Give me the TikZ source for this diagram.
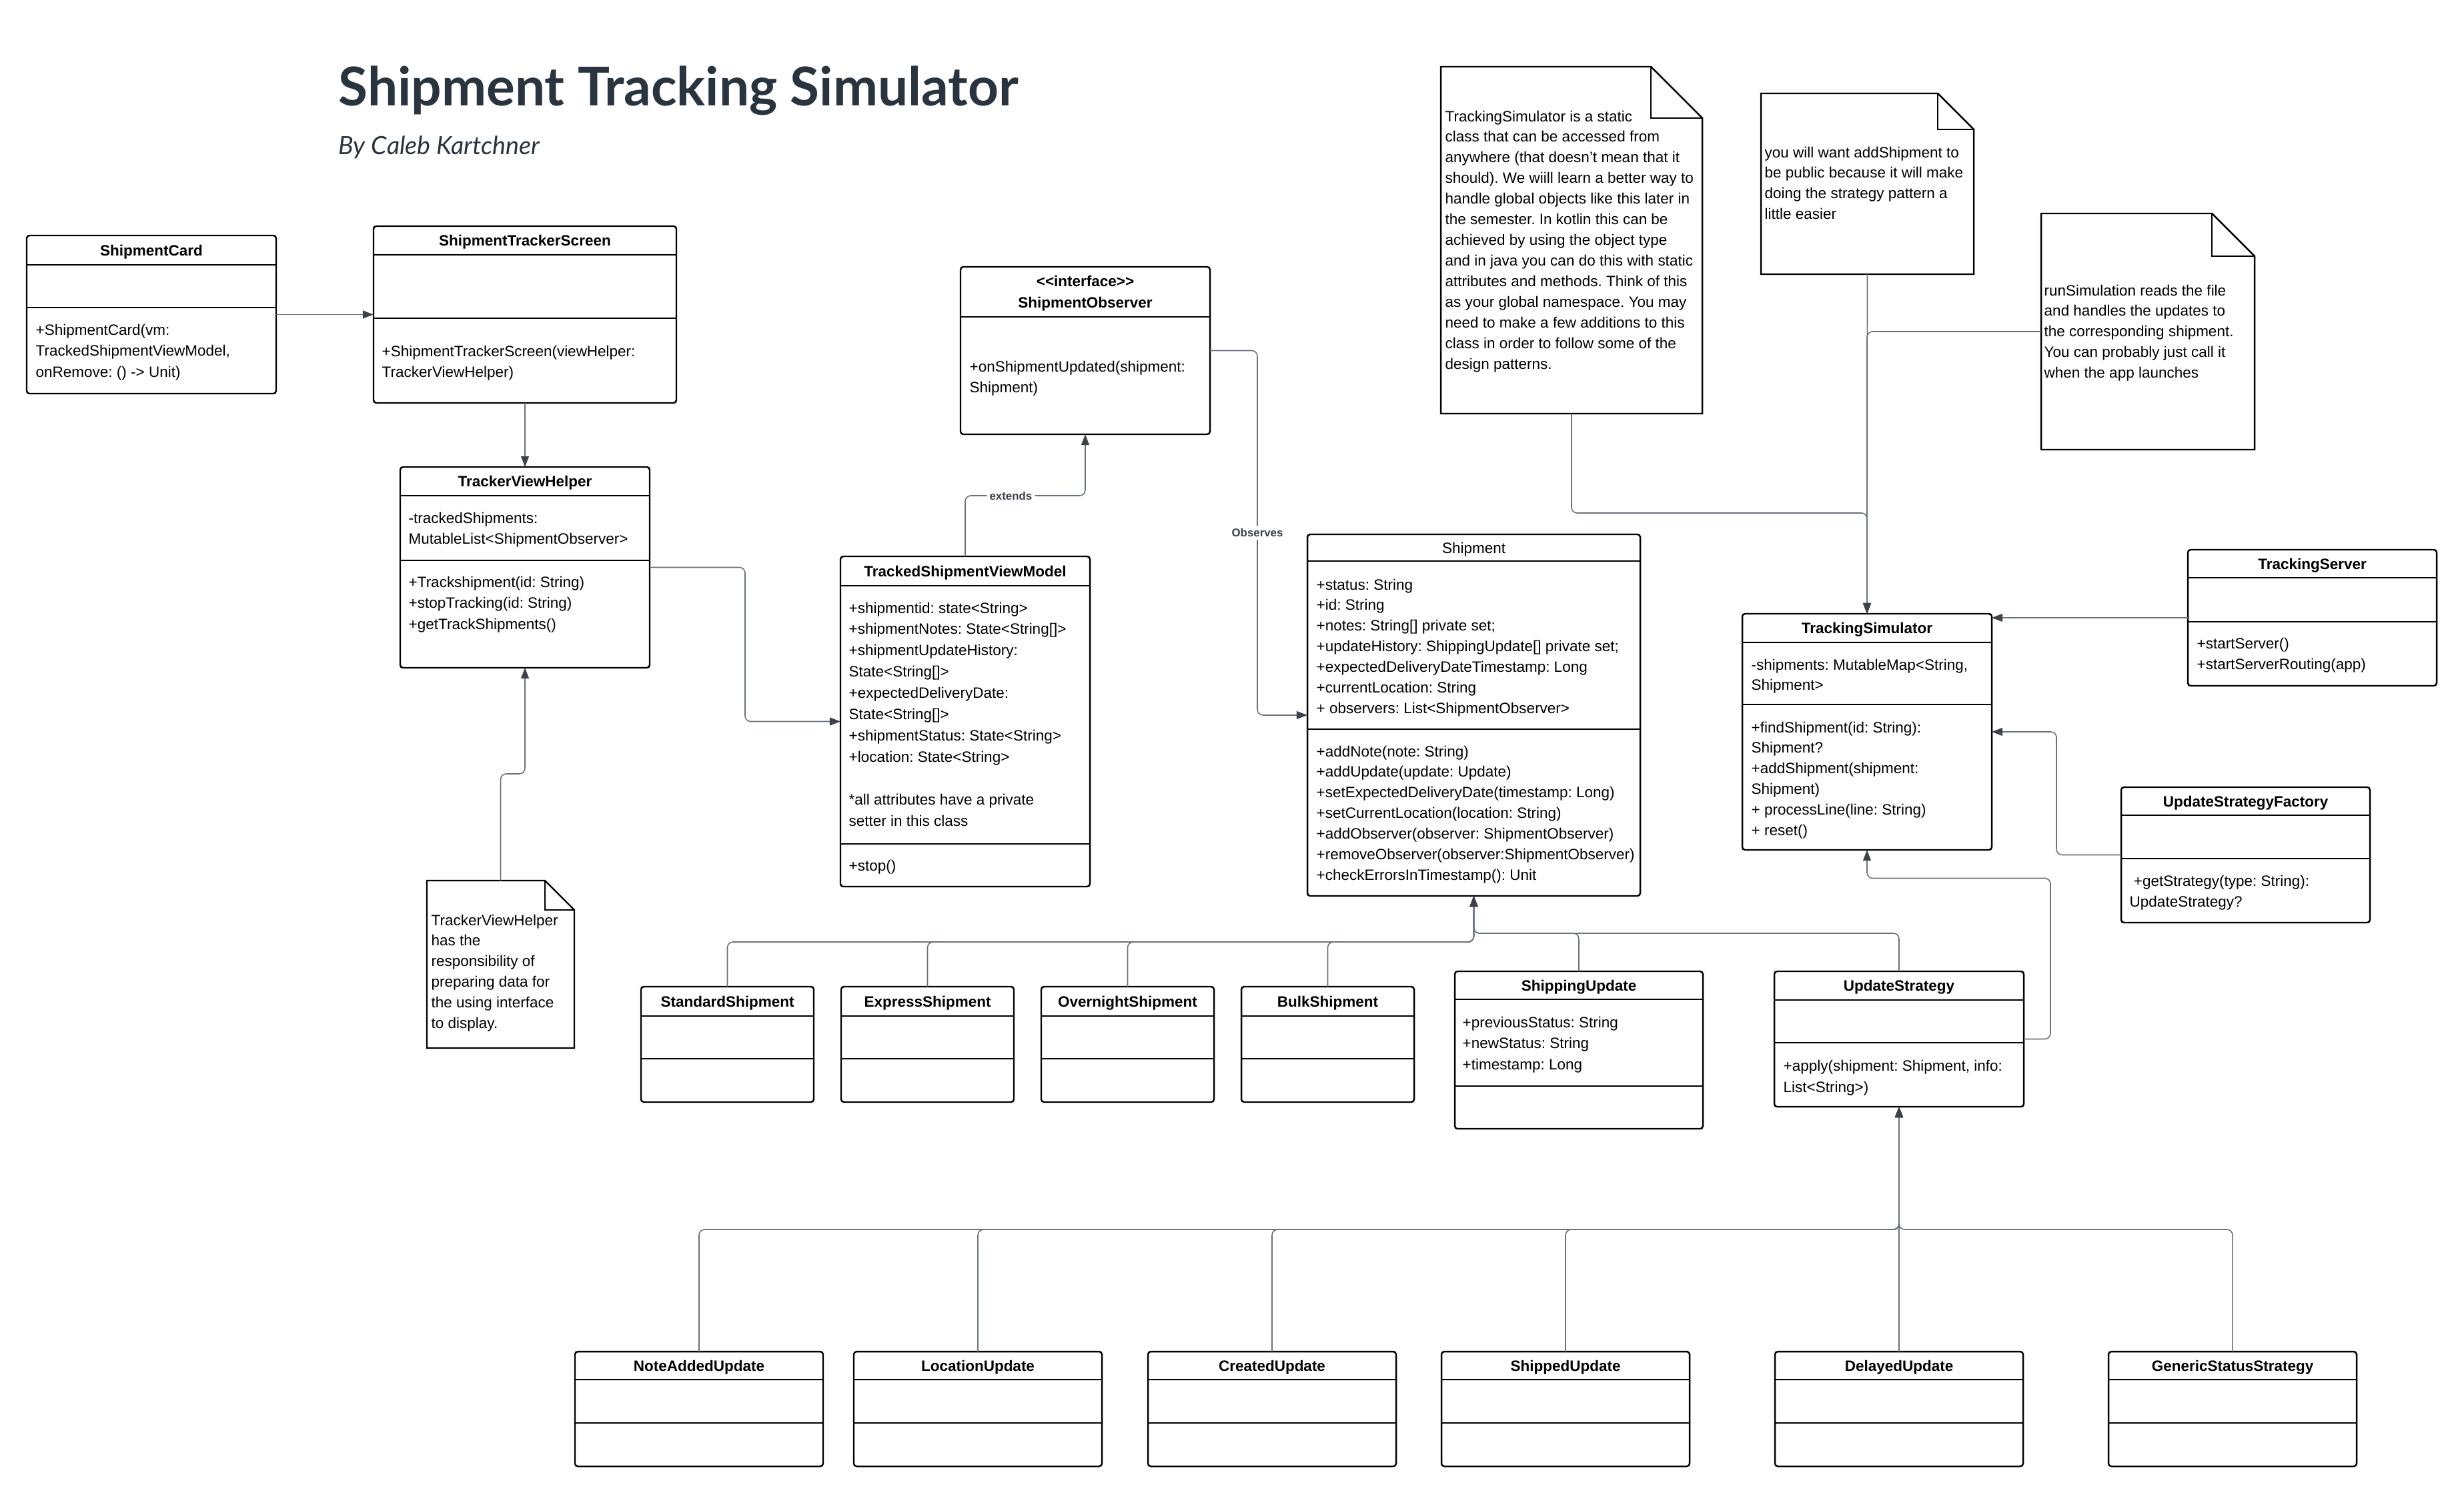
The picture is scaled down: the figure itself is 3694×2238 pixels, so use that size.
\documentclass[tikz,border=0pt]{standalone}
\usepackage{fontspec}
\setmainfont{Liberation Sans}
\newfontfamily\titlefont{Lato}
\usepackage{xcolor}
\usepackage{tikz}
\usetikzlibrary{arrows.meta, calc, positioning}
\frenchspacing

\definecolor{titleink}{HTML}{29343F}
\definecolor{wireline}{HTML}{6B717B}
\definecolor{wiretip}{HTML}{3C424B}

% class box: name, left, top, width, height, header height, attribute height
\newcommand{\umlclass}[7]{%
  \node[classbox, minimum width=#4*0.1mm, minimum height=#5*0.1mm] (#1) at (#2,#3) {};
  \draw[divider] ($(#1.north west)+(0,#6)$) -- ($(#1.north east)+(0,#6)$);
  \draw[divider] ($(#1.north west)+(0,#6+#7)$) -- ($(#1.north east)+(0,#6+#7)$);
}

% note: name, left, top, right, bottom, fold size
\newcommand{\umlnote}[6]{%
  \node[notebox, minimum width=(#4-#2)*0.1mm, minimum height=(#5-#3)*0.1mm] (#1) at (#2,#3) {};
  \draw[noteline] (#1.north west) -- ($(#1.north east)+(-#6,0)$) -- ($(#1.north east)+(0,#6)$)
    -- (#1.south east) -- (#1.south west) -- cycle;
  \draw[noteline] ($(#1.north east)+(-#6,0)$) |- ($(#1.north east)+(0,#6)$);
}

\begin{document}
\begin{tikzpicture}[
    x=0.1mm, y=-0.1mm,
    classbox/.style={draw, line width=0.7pt, rounded corners=1.2pt, fill=white, inner sep=0pt, outer sep=0pt, anchor=north west},
    divider/.style={line width=0.7pt},
    notebox/.style={inner sep=0pt, outer sep=0pt, anchor=north west},
    noteline/.style={line width=0.7pt, line join=miter},
    classname/.style={font=\bfseries\fontsize{6.4}{8}\selectfont, inner sep=0pt, text height=4.6pt, text depth=0pt},
    plainname/.style={font=\fontsize{6.4}{8}\selectfont, inner sep=0pt, text height=4.6pt, text depth=0pt},
    stereo/.style={font=\bfseries\fontsize{6.4}{9.1}\selectfont, align=center, inner sep=0pt},
    members/.style={font=\fontsize{6.4}{9.1}\selectfont, align=left, anchor=north west, inner sep=0pt},
    tight/.style={font=\fontsize{6.4}{8.8}\selectfont},
    conn/.style={draw=wireline, line width=0.45pt, rounded corners=2.4pt, -{Triangle[length=4.6pt, width=3.4pt, color=wiretip]}},
    edgelabel/.style={fill=white, inner sep=1.2pt, font=\bfseries\fontsize{4.8}{6}\selectfont, text=wiretip}
  ]
  \path[use as bounding box, fill=white] (0,0) rectangle (3694,2238);

  % Title
  \node[anchor=base west, inner sep=0pt, text=titleink, font=\titlefont\bfseries\fontsize{22.8}{26}\selectfont] (title) at (507,159) {Shipment Tracking Simulator};
  \node[anchor=base west, inner sep=0pt, text=titleink, font=\titlefont\itshape\fontsize{10.7}{13}\selectfont] (author) at (507,232) {By Caleb Kartchner};

  % Classes
  \umlclass{shipcard}{40}{353}{374}{237}{44}{64}
  \node[classname] (shipcard-title) at ($(shipcard.north)+(0,22)$) {ShipmentCard};
  \node[members] (shipcard-ops) at (53,485) {+ShipmentCard(vm:\\TrackedShipmentViewModel,\\onRemove: () -> Unit)};

  \umlclass{trackscreen}{560}{339}{454}{265}{43}{95}
  \node[classname] (trackscreen-title) at ($(trackscreen.north)+(0,21.5)$) {ShipmentTrackerScreen};
  \node[members] (trackscreen-ops) at (572,517) {+ShipmentTrackerScreen(viewHelper:\\TrackerViewHelper)};

  \umlclass{helper}{600}{700}{374}{301}{43}{97}
  \node[classname] (helper-title) at ($(helper.north)+(0,21.5)$) {TrackerViewHelper};
  \node[members] (helper-attrs) at (612,767) {-trackedShipments:\\MutableList<ShipmentObserver>};
  \node[members] (helper-ops) at (612,863) {+Trackshipment(id: String)\\+stopTracking(id: String)\\+getTrackShipments()};

  \umlclass{observer}{1440}{400}{374}{251}{75}{0}
  \node[stereo] (observer-title) at (1627,440) {<{}<interface>{}>\\ShipmentObserver};
  \node[members] (observer-ops) at (1453,540) {+onShipmentUpdated(shipment:\\Shipment)};

  \umlclass{viewmodel}{1260}{834}{374}{495}{44}{387}
  \node[classname] (viewmodel-title) at ($(viewmodel.north)+(0,22)$) {TrackedShipmentViewModel};
  \node[members] (viewmodel-attrs) at (1272,902) {+shipmentid: state<String>\\+shipmentNotes: State<String[]>\\+shipmentUpdateHistory:\\State<String[]>\\+expectedDeliveryDate:\\State<String[]>\\+shipmentStatus: State<String>\\+location: State<String>\\[9.1pt]*all attributes have a private\\setter in this class};
  \node[members] (viewmodel-ops) at (1272,1288) {+stop()};

  \umlclass{shipment}{1960}{801}{499}{542}{40}{252}
  \node[plainname] (shipment-title) at ($(shipment.north)+(0,20)$) {Shipment};
  \node[members, tight] (shipment-attrs) at (1973,867) {+status: String\\+id: String\\+notes: String[] private set;\\+updateHistory: ShippingUpdate[] private set;\\+expectedDeliveryDateTimestamp: Long\\+currentLocation: String\\+ observers: List<ShipmentObserver>};
  \node[members, tight] (shipment-ops) at (1973,1117) {+addNote(note: String)\\+addUpdate(update: Update)\\+setExpectedDeliveryDate(timestamp: Long)\\+setCurrentLocation(location: String)\\+addObserver(observer: ShipmentObserver)\\+removeObserver(observer:ShipmentObserver)\\+checkErrorsInTimestamp(): Unit};

  \umlclass{simulator}{2612}{920}{374}{354}{43}{93}
  \node[classname] (simulator-title) at ($(simulator.north)+(0,21.5)$) {TrackingSimulator};
  \node[members, tight] (simulator-attrs) at (2625,987) {-shipments: MutableMap<String,\\Shipment>};
  \node[members, tight] (simulator-ops) at (2625,1081) {+findShipment(id: String):\\Shipment?\\+addShipment(shipment:\\Shipment)\\+ processLine(line: String)\\+ reset()};

  \umlclass{server}{3280}{824}{373}{204}{42}{66}
  \node[classname] (server-title) at ($(server.north)+(0,21)$) {TrackingServer};
  \node[members] (server-ops) at (3293,955) {+startServer()\\+startServerRouting(app)};

  \umlclass{factory}{3180}{1180}{373}{203}{42}{65}
  \node[classname] (factory-title) at ($(factory.north)+(0,21)$) {UpdateStrategyFactory};
  \node[members] (factory-ops) at (3192,1311) {~+getStrategy(type: String):\\UpdateStrategy?};

  \umlclass{strategy}{2660}{1456}{374}{203}{43}{64}
  \node[classname] (strategy-title) at ($(strategy.north)+(0,21.5)$) {UpdateStrategy};
  \node[members] (strategy-ops) at (2673,1588) {+apply(shipment: Shipment, info:\\List<String>)};

  \umlclass{shipupdate}{2181}{1456}{372}{236}{42}{130}
  \node[classname] (shipupdate-title) at ($(shipupdate.north)+(0,21)$) {ShippingUpdate};
  \node[members] (shipupdate-attrs) at (2192,1523) {+previousStatus: String\\+newStatus: String\\+timestamp: Long};

  \foreach \cname/\cleft/\ctitle in {standard/961/StandardShipment, express/1261/ExpressShipment, overnight/1561/OvernightShipment, bulk/1861/BulkShipment} {
    \umlclass{\cname}{\cleft}{1479}{259}{173}{44}{64}
    \node[classname] (\cname-title) at ($(\cname.north)+(0,22)$) {\ctitle};
  }

  \foreach \cname/\cleft/\ctitle in {noteadded/862/NoteAddedUpdate, location/1280/LocationUpdate, created/1721/CreatedUpdate, shipped/2161/ShippedUpdate, delayed/2661/DelayedUpdate, generic/3161/GenericStatusStrategy} {
    \umlclass{\cname}{\cleft}{2026}{372}{172}{42}{65}
    \node[classname] (\cname-title) at ($(\cname.north)+(0,21)$) {\ctitle};
  }

  % Notes
  \umlnote{helpernote}{640}{1320}{861}{1571}{44}
  \node[members, tight] (helpernote-text) at (646,1370) {TrackerViewHelper\\has the\\responsibility of\\preparing data for\\the using interface\\to display.};

  \umlnote{simnote}{2160}{100}{2552}{620}{77}
  \node[members, tight] (simnote-text) at (2166,165) {TrackingSimulator is a static\\class that can be accessed from\\anywhere (that doesn't mean that it\\should). We wiill learn a better way to\\handle global objects like this later in\\the semester. In kotlin this can be\\achieved by using the object type\\and in java you can do this with static\\attributes and methods. Think of this\\as your global namespace. You may\\need to make a few additions to this\\class in order to follow some of the\\design patterns.};

  \umlnote{addnote}{2640}{140}{2959}{411}{54}
  \node[members, tight] (addnote-text) at (2645,219) {you will want addShipment to\\be public because it will make\\doing the strategy pattern a\\little easier};

  \umlnote{runnote}{3060}{320}{3380}{674}{64}
  \node[members, tight] (runnote-text) at (3064,426) {runSimulation reads the file\\and handles the updates to\\the corresponding shipment.\\You can probably just call it\\when the app launches};

  % Arrows
  \draw[conn] (shipcard) -- (trackscreen);
  \draw[conn] (trackscreen) -- (helper);
  \draw[conn] (helper.east) -- ++(143,0) |- (viewmodel.west);
  \draw[conn] (helpernote.north) -- ++(0,-160) -| (helper.south);
  \draw[conn] (viewmodel.north) -- ++(0,-91) -| node[edgelabel, pos=0.19] (extends-label) {extends} (observer.south);
  \draw[conn] (observer.east) -- ++(71,0) |- node[edgelabel, pos=0.25] (observes-label) {Observes} (shipment.west);

  \draw[conn] (simnote.south) -- ++(0,149) -| (simulator.north);
  \draw[conn] (runnote.west) -| (simulator.north);
  \draw[conn] (addnote.south) -- (simulator.north);
  \draw[conn] (server.west) -- (server.west -| simulator.east);
  \draw[conn] (factory.west) -- ++(-97,0) |- (simulator.east);
  \draw[conn] (strategy.east) -- ++(40,0) -- ++(0,-241) -| (simulator.south);

  \foreach \cname in {standard, express, overnight, bulk}
    \draw[conn] (\cname.north) -- ++(0,-67) -| (shipment.south);
  \draw[conn] (shipupdate.north) -- ++(0,-57) -| (shipment.south);
  \draw[conn] (strategy.north) -- ++(0,-57) -| (shipment.south);

  \foreach \cname in {noteadded, location, created, shipped, delayed, generic}
    \draw[conn] (\cname.north) -- ++(0,-183) -| (strategy.south);
\end{tikzpicture}
\end{document}
